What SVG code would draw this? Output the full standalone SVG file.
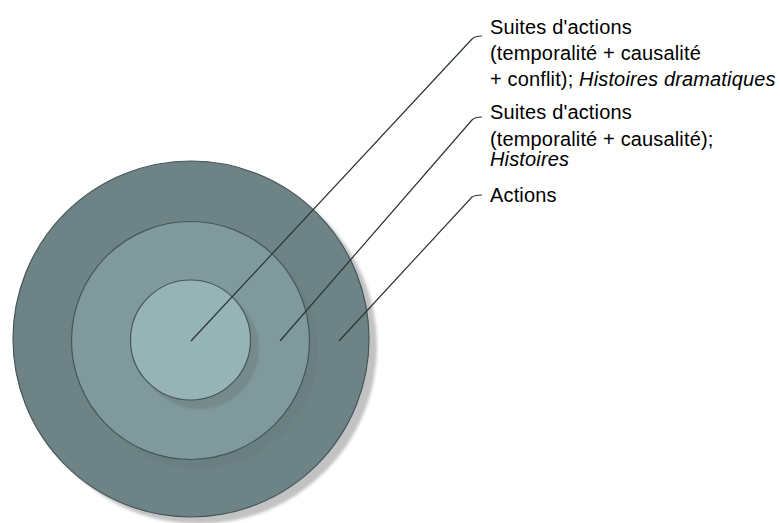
<svg xmlns="http://www.w3.org/2000/svg" width="780" height="523" viewBox="0 0 780 523">
<defs>
<filter id="blur" x="-10%" y="-10%" width="120%" height="120%"><feGaussianBlur stdDeviation="1.5"/></filter>
<filter id="blur2" x="-10%" y="-10%" width="120%" height="120%"><feGaussianBlur stdDeviation="0.8"/></filter>
<style>
.ring{stroke:#465658;stroke-width:1.2}
.lbl{font-family:"Liberation Sans",Arial,sans-serif;font-size:20px;fill:#000;letter-spacing:0.15px}
.it{font-style:italic}
.lead{fill:none;stroke:#2b3334;stroke-width:1.2}
</style>
</defs>
<rect width="780" height="523" fill="#fff"/>
<g id="outer">
<circle cx="199" cy="346" r="178" fill="#c2c2c2" filter="url(#blur)"/>
<circle cx="191" cy="339" r="178" fill="#6d8385" class="ring"/>
</g>
<g id="middle">
<circle cx="199" cy="349" r="119" fill="#6a7f82" filter="url(#blur2)"/>
<circle cx="190.5" cy="340.5" r="119" fill="#7f999c" class="ring"/>
</g>
<g id="inner">
<circle cx="199" cy="349" r="60" fill="#76898b" filter="url(#blur2)"/>
<circle cx="190.5" cy="340" r="60" fill="#96b3b5" class="ring"/>
</g>
<g id="connectors">
<path class="lead" d="M191,341 L472,39 Q475,36 482,36"/>
<path class="lead" d="M280,341 L472,120 Q475,117 482,117"/>
<path class="lead" d="M339,341 L472,197 Q475,195 482,195"/>
</g>
<g id="label1">
<text class="lbl" x="490" y="34">Suites d'actions</text>
<text class="lbl" x="490" y="60">(temporalité + causalité</text>
<text class="lbl" x="490" y="86">+ conflit); <tspan class="it">Histoires dramatiques</tspan></text>
</g>
<g id="label2">
<text class="lbl" x="490" y="119">Suites d'actions</text>
<text class="lbl" x="490" y="146">(temporalité + causalité);</text>
<text class="lbl it" x="490" y="166">Histoires</text>
</g>
<g id="label3">
<text class="lbl" x="490" y="202">Actions</text>
</g>
</svg>
